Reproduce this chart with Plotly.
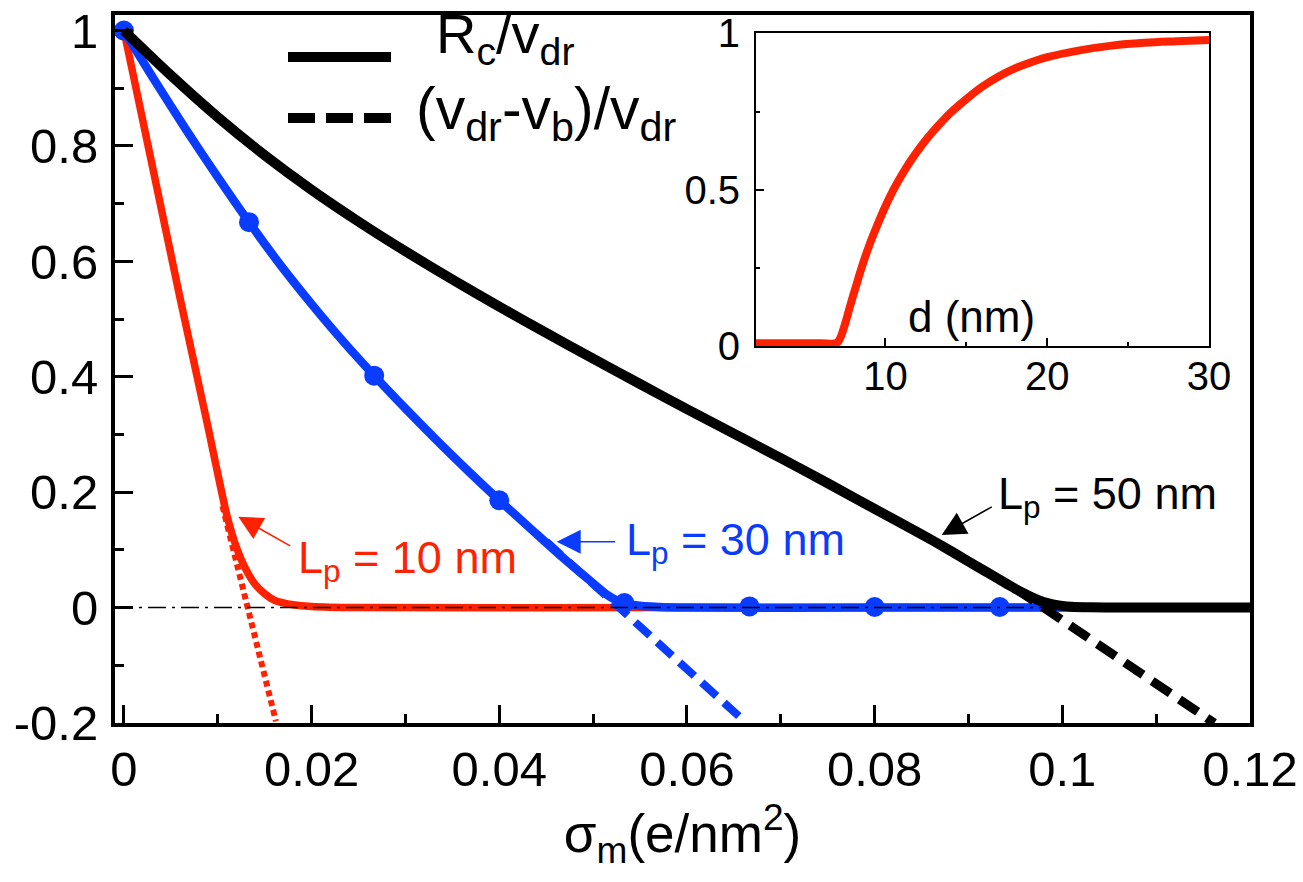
import plotly.graph_objects as go

# ---------------- data ----------------
# L_p = 50 nm (black) : R_c / v_dr
sig_50 = [0, 0.005, 0.01, 0.015, 0.02, 0.025, 0.03, 0.035, 0.04, 0.045, 0.05, 0.055, 0.06,
          0.065, 0.07, 0.075, 0.08, 0.085, 0.0875, 0.09, 0.092, 0.094, 0.0955, 0.097, 0.098,
          0.099, 0.1, 0.101, 0.103, 0.106, 0.11, 0.12]
rc_50 = [1.0, 0.9225, 0.85, 0.784, 0.724, 0.669, 0.6175, 0.5685, 0.5215, 0.476, 0.4315, 0.3875,
         0.344, 0.3015, 0.259, 0.2155, 0.171, 0.127, 0.104, 0.08, 0.061, 0.042, 0.028, 0.016,
         0.0095, 0.0055, 0.003, 0.0015, 0.0005, 0.0, 0.0, 0.0]
# L_p = 50 nm : (v_dr - v_b)/v_dr
sig_50_b = [0.095, 0.098, 0.1162]
vb_50 = [0.033, 0.0, -0.2]

# L_p = 30 nm (blue)
sig_30 = [0, 0.00333, 0.00667, 0.01, 0.01333, 0.01667, 0.02, 0.02333, 0.02667, 0.03, 0.03333,
          0.03667, 0.04, 0.04333, 0.04667, 0.05, 0.0515, 0.053, 0.0545, 0.057, 0.06, 0.08, 0.1, 0.12]
rc_30 = [1.0, 0.912, 0.827, 0.746, 0.668, 0.594, 0.526, 0.462, 0.402, 0.345, 0.29,
         0.237, 0.186, 0.137, 0.088, 0.042, 0.022, 0.009, 0.004, 0.001, 0.0, 0.0, 0.0, 0.0]
sig_30_pts = [0, 0.01333, 0.02667, 0.04, 0.05333, 0.06667, 0.08, 0.09333]
rc_30_pts = [1.0, 0.668, 0.402, 0.186, 0.008, 0.002, 0.001, 0.001]
sig_30_b = [0.045, 0.05276, 0.0662]
vb_30 = [0.1145, 0.0, -0.198]

# L_p = 10 nm (red)
sig_10 = [0, 0.002, 0.004, 0.006, 0.008, 0.009, 0.01, 0.011, 0.012, 0.013, 0.014, 0.015,
          0.016, 0.017, 0.018, 0.02, 0.025, 0.06, 0.12]
rc_10 = [1.0, 0.845, 0.69, 0.535, 0.385, 0.31, 0.232, 0.158, 0.104, 0.066, 0.04, 0.024,
         0.013, 0.008, 0.005, 0.002, 0.0, 0.0, 0.0]
sig_10_b = [0.0105, 0.01318, 0.0162]
vb_10 = [0.176, 0.0, -0.197]

# inset
d_nm = [2, 4, 6, 7.0, 7.2, 7.5, 7.8, 8.2, 8.6, 9, 9.5, 10, 10.5, 11, 11.5, 12, 12.5, 13, 13.5,
        14, 15, 16, 17, 18, 19, 20, 22, 24, 26, 28, 30]
frac = [0.009, 0.009, 0.009, 0.01, 0.025, 0.07, 0.125, 0.195, 0.262, 0.322, 0.387, 0.447, 0.5,
        0.546, 0.588, 0.625, 0.659, 0.69, 0.718, 0.745, 0.79, 0.83, 0.862, 0.888, 0.908, 0.924,
        0.946, 0.961, 0.97, 0.975, 0.979]

x_ticks = [0, 0.02, 0.04, 0.06, 0.08, 0.1, 0.12]
x_ticktext = ["0", "0.02", "0.04", "0.06", "0.08", "0.1", "0.12"]
y_ticks = [-0.2, 0, 0.2, 0.4, 0.6, 0.8, 1]
y_ticktext = ["-0.2", "0", "0.2", "0.4", "0.6", "0.8", "1"]

RED = "#ff2200"
BLUE = "#0a3cff"
BLACK = "#000000"
FONT = "Liberation Sans, Arial, sans-serif"

W, H = 1303, 882
PL, PR, PT, PB = 115, 1250, 15, 723
XR = [-0.00095, 0.12]
YR = [-0.2, 1.027]


def fx(px):
    return (px - PL) / (PR - PL)


def fy(py):
    return (PB - py) / (PB - PT)


def dx(px):
    return XR[0] + fx(px) * (XR[1] - XR[0])


def dy(py):
    return YR[0] + fy(py) * (YR[1] - YR[0])


SM = 0.7
fig = go.Figure()

fig.add_trace(go.Scatter(x=sig_10_b, y=vb_10, mode="lines",
                         line=dict(color=RED, width=6, dash="6px,4px")))
fig.add_trace(go.Scatter(x=sig_10, y=rc_10, mode="lines",
                         line=dict(color=RED, width=7.5, shape="spline", smoothing=SM)))
fig.add_trace(go.Scatter(x=sig_30_b, y=vb_30, mode="lines",
                         line=dict(color=BLUE, width=8, dash="20px,10px")))
fig.add_trace(go.Scatter(x=sig_30, y=rc_30, mode="lines",
                         line=dict(color=BLUE, width=8.5, shape="spline", smoothing=SM)))
fig.add_trace(go.Scatter(x=sig_30_pts, y=rc_30_pts, mode="markers",
                         marker=dict(color=BLUE, size=20)))
fig.add_trace(go.Scatter(x=sig_50_b, y=vb_50, mode="lines",
                         line=dict(color=BLACK, width=9, dash="22px,11px")))
fig.add_trace(go.Scatter(x=sig_50, y=rc_50, mode="lines",
                         line=dict(color=BLACK, width=10, shape="spline", smoothing=SM)))

# inset
fig.add_trace(go.Scatter(x=d_nm, y=frac, mode="lines", line=dict(color=RED, width=8, shape="spline"),
                         xaxis="x2", yaxis="y2"))

fig.update_traces(showlegend=False, hoverinfo="skip")

# zero reference line
fig.add_shape(type="line", xref="x", yref="y", x0=XR[0], x1=XR[1], y0=0, y1=0,
              line=dict(color=BLACK, width=1.5, dash="18px,6px,3px,6px"), layer="above")

# legend drawn by hand
fig.add_shape(type="line", xref="paper", yref="paper", x0=fx(288), x1=fx(391), y0=fy(57), y1=fy(57),
              line=dict(color=BLACK, width=10))
fig.add_shape(type="line", xref="paper", yref="paper", x0=fx(288), x1=fx(391), y0=fy(118), y1=fy(118),
              line=dict(color=BLACK, width=10, dash="27px,11px"))

anns = []
anns.append(dict(x=fx(434), y=fy(38), xref="paper", yref="paper", xanchor="left", yanchor="middle",
                 text="R<sub>c</sub>/v<sub>dr</sub>", showarrow=False,
                 font=dict(size=56, color=BLACK, family=FONT)))
anns.append(dict(x=fx(414), y=fy(113), xref="paper", yref="paper", xanchor="left", yanchor="middle",
                 text="(v<sub>dr</sub>-v<sub>b</sub>)/v<sub>dr</sub>", showarrow=False,
                 font=dict(size=59, color=BLACK, family=FONT)))

# curve labels
anns.append(dict(x=dx(296), y=dy(560), xref="x", yref="y", xanchor="left", yanchor="middle",
                 text="L<sub>p</sub> = 10 nm", showarrow=False, font=dict(size=45, color=RED, family=FONT)))
anns.append(dict(x=dx(624), y=dy(542), xref="x", yref="y", xanchor="left", yanchor="middle",
                 text="L<sub>p</sub> = 30 nm", showarrow=False, font=dict(size=45, color=BLUE, family=FONT)))
anns.append(dict(x=dx(996), y=dy(496), xref="x", yref="y", xanchor="left", yanchor="middle",
                 text="L<sub>p</sub> = 50 nm", showarrow=False, font=dict(size=45, color=BLACK, family=FONT)))

# arrows
for (tx, ty, hx, hy, col) in [(291.7, 546.7, 238.3, 516.7, RED),
                              (616.7, 541.7, 556.7, 541.7, BLUE),
                              (993.3, 506.0, 941.7, 535.0, BLACK)]:
    anns.append(dict(x=dx(hx), y=dy(hy), ax=dx(tx), ay=dy(ty), xref="x", yref="y", axref="x", ayref="y",
                     text="", showarrow=True, arrowhead=2, arrowsize=3, arrowwidth=1.6,
                     arrowcolor=col, standoff=0, startstandoff=0))

# inset axis label
anns.append(dict(x=15.35, y=0.095, xref="x2", yref="y2", xanchor="center", yanchor="middle",
                 text="d (nm)", showarrow=False, font=dict(size=44, color=BLACK, family=FONT)))

fig.update_layout(
    width=W, height=H,
    margin=dict(l=PL, r=W - PR, t=PT, b=H - PB, autoexpand=False),
    paper_bgcolor="white", plot_bgcolor="white",
    font=dict(family=FONT, color=BLACK),
    showlegend=False,
    annotations=anns,
    xaxis=dict(range=XR, tickvals=x_ticks, ticktext=x_ticktext, ticks="inside", ticklen=18,
               tickwidth=3, tickcolor=BLACK, showline=True, linewidth=4, linecolor=BLACK, mirror=True,
               showgrid=False, zeroline=False, tickfont=dict(size=49, family=FONT),
               ticklabelstandoff=0, automargin=False,
               minor=dict(tickvals=[0.01, 0.03, 0.05, 0.07, 0.09, 0.11], ticks="inside", ticklen=9,
                          tickwidth=3, tickcolor=BLACK, showgrid=False),
               title=dict(text="σ<sub>m</sub>(e/nm<sup>2</sup>)", font=dict(size=53, family=FONT),
                          standoff=0)),
    yaxis=dict(range=YR, tickvals=y_ticks, ticktext=y_ticktext, ticks="inside", ticklen=18,
               tickwidth=3, tickcolor=BLACK, showline=True, linewidth=4, linecolor=BLACK, mirror=True,
               showgrid=False, zeroline=False, tickfont=dict(size=49, family=FONT),
               ticklabelstandoff=3, automargin=False,
               minor=dict(tickvals=[-0.1, 0.1, 0.3, 0.5, 0.7, 0.9], ticks="inside", ticklen=9,
                          tickwidth=3, tickcolor=BLACK, showgrid=False)),
    xaxis2=dict(domain=[fx(756), fx(1209)], anchor="y2", range=[2, 30], tickvals=[10, 20, 30],
                ticks="inside", ticklen=8, tickwidth=1.5, tickcolor=BLACK, showline=True, linewidth=2,
                linecolor=BLACK, mirror=True, showgrid=False, zeroline=False, automargin=False,
                tickfont=dict(size=40, family=FONT), ticklabelstandoff=-6,
                minor=dict(tickvals=[15, 25], ticks="inside", ticklen=4, tickwidth=1.5, tickcolor=BLACK)),
    yaxis2=dict(domain=[fy(346), fy(32.5)], anchor="x2", range=[0, 1.003], tickvals=[0, 0.5, 1],
                ticktext=["0", "0.5", "1"], ticks="inside", ticklen=8, tickwidth=1.5, tickcolor=BLACK,
                showline=True, linewidth=2, linecolor=BLACK, mirror=True, showgrid=False, zeroline=False,
                automargin=False, tickfont=dict(size=40, family=FONT), ticklabelstandoff=6,
                minor=dict(tickvals=[0.25, 0.75], ticks="inside", ticklen=4, tickwidth=1.5, tickcolor=BLACK)),
)

fig.write_html("out.html")
